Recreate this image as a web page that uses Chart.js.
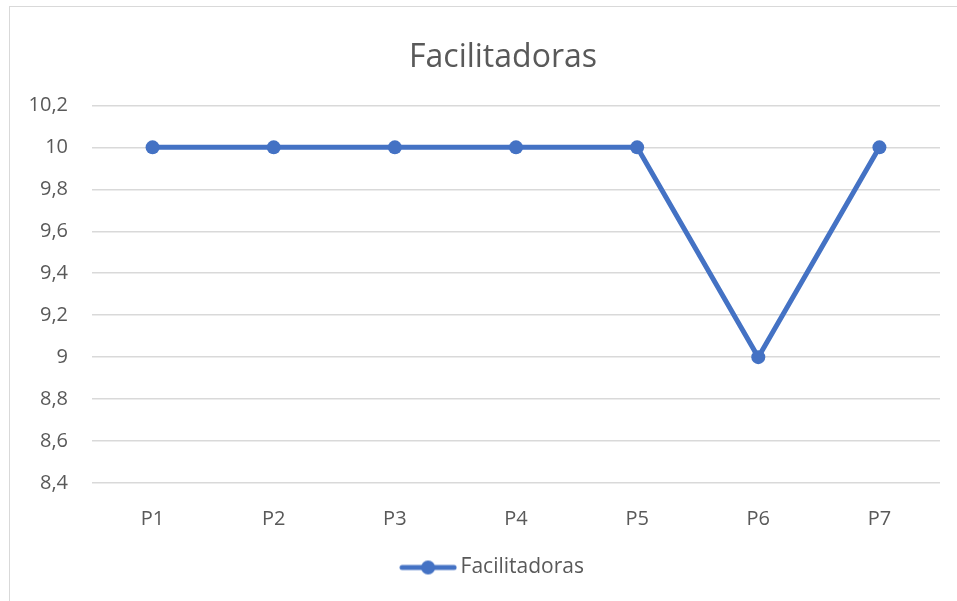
<!DOCTYPE html>
<html>
<head>
<meta charset="utf-8">
<script src="https://cdn.jsdelivr.net/npm/chart.js@4"></script>
<style>
  html, body { margin: 0; padding: 0; background: #fff; }
  #wrap { position: relative; width: 957px; height: 601px; overflow: hidden; }
  #frame { position: absolute; left: 9px; top: 6px; width: 1000px; height: 700px; border: 1px solid #d9d9d9; box-sizing: border-box; }
  canvas { position: absolute; left: 0; top: 0; }
</style>
</head>
<body>
<div id="wrap">
  <div id="frame"></div>
  <canvas id="c" width="957" height="601"></canvas>
</div>
<script>
const categories = ['P1', 'P2', 'P3', 'P4', 'P5', 'P6', 'P7'];
const facilitadoras = [10, 10, 10, 10, 10, 9, 10];
const seriesName = 'Facilitadoras';

const blue = '#4472C4';
const grey = '#595959';
const font = '"Open Sans", sans-serif';

// legend symbol: line with a dot, like Excel
const sym = document.createElement('canvas');
sym.width = 58; sym.height = 16;
const sc = sym.getContext('2d');
sc.strokeStyle = blue; sc.lineWidth = 5; sc.lineCap = 'round';
sc.beginPath(); sc.moveTo(3, 8); sc.lineTo(55, 8); sc.stroke();
sc.fillStyle = blue;
sc.beginPath(); sc.arc(29, 8, 7, 0, Math.PI * 2); sc.fill();

// the original chart is wider than the crop, so title and legend sit right of centre
const shiftBlocks = {
    id: 'shiftBlocks',
    afterLayout(chart) {
        chart.titleBlock.left += 33;
        chart.titleBlock.right += 33;
        chart.legend.left += 25;
        chart.legend.right += 25;
    }
};

new Chart(document.getElementById('c').getContext('2d'), {
    type: 'line',
    data: {
        labels: categories,
        datasets: [
            {
                label: seriesName,
                data: facilitadoras,
                borderColor: blue,
                backgroundColor: blue,
                borderWidth: 5,
                pointRadius: 7,
                pointHoverRadius: 7,
                pointBackgroundColor: blue,
                pointBorderWidth: 0,
                tension: 0
            }
        ]
    },
    options: {
        responsive: false,
        animation: false,
        layout: { padding: { left: 0, right: 17, top: 39, bottom: 13 } },
        plugins: {
            title: {
                display: true,
                text: seriesName,
                color: grey,
                font: { family: font, size: 32, weight: 'normal' },
                padding: { top: 0, bottom: 28 }
            },
            legend: {
                position: 'bottom',
                labels: {
                    color: grey,
                    font: { family: font, size: 21 },
                    usePointStyle: true,
                    pointStyleWidth: 44,
                    boxHeight: 16,
                    padding: 10,
                    generateLabels: (chart) => [{
                        text: seriesName,
                        fontColor: grey,
                        pointStyle: sym,
                        datasetIndex: 0,
                        hidden: false,
                        lineWidth: 0
                    }]
                }
            },
            tooltip: { enabled: false }
        },
        scales: {
            x: {
                offset: true,
                grid: { display: false, offset: true },
                border: { display: false },
                ticks: { color: grey, font: { family: font, size: 20 }, padding: 16 }
            },
            y: {
                min: 8.4,
                max: 10.2,
                afterFit: (s) => { s.width = 92; },
                grid: { color: '#d9d9d9', lineWidth: 1.5, drawTicks: false },
                border: { display: false },
                ticks: {
                    stepSize: 0.2,
                    color: grey,
                    padding: 24,
                    font: { family: font, size: 20 },
                    callback: (v) => (Math.round(v * 10) / 10).toString().replace('.', ',')
                }
            }
        }
    },
    plugins: [shiftBlocks]
});
</script>
</body>
</html>
